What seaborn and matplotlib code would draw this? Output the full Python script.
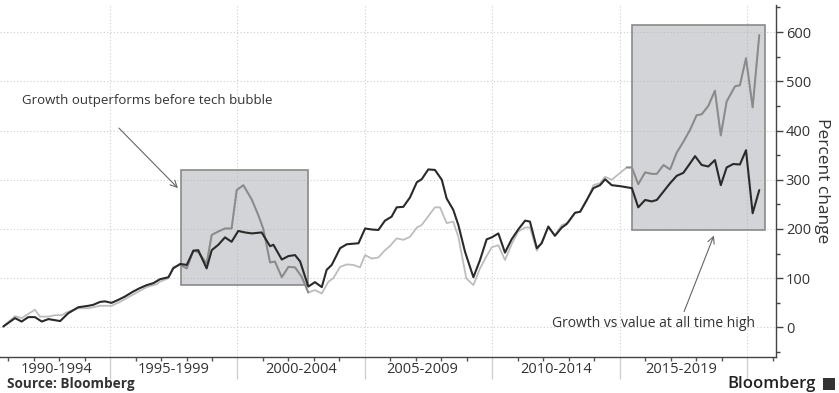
import matplotlib
matplotlib.use("Agg")
import matplotlib.pyplot as plt
import matplotlib.transforms as mtransforms
from matplotlib.patches import Rectangle
from matplotlib.ticker import FixedLocator, MultipleLocator
import seaborn as sns
import pandas as pd

# ---------------- data ----------------
value_years = [1990.81, 1991.27, 1991.53, 1991.79, 1992.05, 1992.32, 1992.58, 1993.04, 1993.36, 1993.75,
               1994.15, 1994.34, 1994.61, 1994.80, 1995.06, 1995.32, 1995.59, 1995.91, 1996.17, 1996.44,
               1996.70, 1996.96, 1997.29, 1997.48, 1997.75, 1998.01, 1998.27, 1998.46, 1998.79, 1998.99,
               1999.25, 1999.51, 1999.77, 2000.03, 2000.30, 2000.56, 2000.95, 2001.28, 2001.41, 2001.74,
               2002.00, 2002.26, 2002.46, 2002.78, 2003.04, 2003.31, 2003.50, 2003.70, 2004.03, 2004.29,
               2004.75, 2005.01, 2005.27, 2005.53, 2005.79, 2006.05, 2006.25, 2006.51, 2006.77, 2007.04,
               2007.23, 2007.49, 2007.75, 2008.02, 2008.21, 2008.47, 2008.67, 2008.93, 2009.26, 2009.52,
               2009.78, 2009.98, 2010.24, 2010.50, 2010.76, 2011.02, 2011.29, 2011.48, 2011.75, 2011.94,
               2012.20, 2012.46, 2012.73, 2012.92, 2013.25, 2013.45, 2013.71, 2013.97, 2014.23, 2014.43,
               2014.69, 2015.02, 2015.48, 2015.73, 2016.00, 2016.26, 2016.46, 2016.72, 2016.98, 2017.24,
               2017.50, 2017.76, 2017.96, 2018.22, 2018.48, 2018.74, 2018.97, 2019.20, 2019.46, 2019.72,
               2019.96, 2020.22, 2020.48]
value_pct = [2, 19, 12, 21, 21, 12, 17, 13, 29, 41,
             44, 46, 52, 53, 50, 56, 63, 73, 80, 86,
             90, 98, 102, 120, 129, 127, 156, 157, 120, 157,
             168, 183, 174, 196, 193, 191, 193, 165, 168, 138,
             145, 147, 134, 83, 92, 82, 117, 127, 161, 169,
             171, 201, 199, 198, 217, 225, 244, 245, 264, 295,
             301, 321, 320, 300, 262, 239, 208, 154, 102, 137,
             179, 183, 191, 152, 179, 199, 217, 215, 161, 171,
             205, 186, 203, 210, 233, 235, 259, 283, 289, 301,
             289, 287, 283, 244, 259, 256, 259, 276, 293, 308,
             314, 333, 348, 330, 327, 340, 289, 325, 332, 331,
             360, 232, 279]

growth_years = [1990.81, 1991.27, 1991.53, 1992.05, 1992.25, 1992.58, 1992.84, 1993.10, 1993.36, 1993.75,
                1994.15, 1994.61, 1995.06, 1995.39, 1995.91, 1996.44, 1996.83, 1996.96, 1997.29, 1997.48,
                1997.75, 1998.01, 1998.27, 1998.46, 1998.79, 1998.99, 1999.25, 1999.51, 1999.77, 1999.97,
                2000.23, 2000.56, 2000.82, 2001.01, 2001.28, 2001.47, 2001.74, 2002.00, 2002.26, 2002.52,
                2002.78, 2003.04, 2003.31, 2003.57, 2003.76, 2004.03, 2004.29, 2004.55, 2004.81, 2005.01,
                2005.27, 2005.53, 2005.79, 2005.98, 2006.25, 2006.51, 2006.77, 2007.04, 2007.23, 2007.49,
                2007.75, 2007.95, 2008.21, 2008.47, 2008.67, 2008.98, 2009.26, 2009.52, 2009.78, 2009.98,
                2010.24, 2010.50, 2010.76, 2011.02, 2011.29, 2011.48, 2011.75, 2011.94, 2012.20, 2012.46,
                2012.73, 2012.99, 2013.25, 2013.45, 2013.71, 2013.97, 2014.23, 2014.43, 2014.69, 2015.02,
                2015.28, 2015.48, 2015.73, 2016.00, 2016.26, 2016.46, 2016.72, 2016.98, 2017.24, 2017.50,
                2017.76, 2018.02, 2018.22, 2018.48, 2018.74, 2018.97, 2019.20, 2019.53, 2019.72, 2019.96,
                2020.22, 2020.48]
growth_pct = [2, 23, 19, 36, 22, 22, 25, 25, 32, 39,
              39, 44, 44, 52, 67, 82, 88, 93, 100, 123,
              127, 120, 156, 153, 130, 188, 195, 201, 201, 279,
              289, 260, 228, 201, 132, 134, 102, 123, 122, 103,
              71, 76, 69, 93, 100, 123, 128, 127, 122, 147,
              140, 142, 157, 165, 181, 178, 184, 203, 208, 226,
              244, 244, 212, 215, 184, 100, 86, 120, 145, 163,
              167, 137, 169, 195, 203, 203, 156, 174, 203, 188,
              208, 213, 233, 235, 257, 289, 293, 306, 300, 314,
              325, 325, 291, 315, 312, 312, 330, 321, 355, 377,
              401, 431, 433, 450, 481, 390, 459, 490, 492, 547,
              447, 594]

# highlighted periods: (start year, end year, low %, high %)
highlight_start = [1997.78, 2015.48]
highlight_end = [2002.77, 2020.70]
highlight_low = [86, 198]
highlight_high = [320, 614]

period_labels = ["1990-1994", "1995-1999", "2000-2004", "2005-2009", "2010-2014", "2015-2019"]
period_centers = [1992.9, 1997.5, 2002.5, 2007.25, 2012.5, 2017.4]
boundary_years = [1995, 2000, 2005, 2010, 2015, 2020]

# ---------------- style ----------------
sns.set_theme(style="white")
plt.rcParams["font.family"] = ["Open Sans", "DejaVu Sans"]

TEXT = "#333333"
fig = plt.figure(figsize=(8.39, 3.93), dpi=100)
ax = fig.add_axes([0.0, 0.0916, 0.925, 0.8957])

value_df = pd.DataFrame({"year": value_years, "pct": value_pct})
growth_df = pd.DataFrame({"year": growth_years, "pct": growth_pct})

sns.lineplot(data=growth_df, x="year", y="pct", color="#bdbdbd", lw=1.3,
             estimator=None, sort=False, ax=ax, zorder=3)
for s, e in zip(highlight_start, highlight_end):
    inside = growth_df[(growth_df["year"] >= s - 0.26) & (growth_df["year"] <= e + 0.26)]
    sns.lineplot(data=inside, x="year", y="pct", color="#8a8a8a", lw=1.4,
                 estimator=None, sort=False, ax=ax, zorder=3.5)
sns.lineplot(data=value_df, x="year", y="pct", color="#2a2a2a", lw=1.5,
             estimator=None, sort=False, ax=ax, zorder=4)

for s, e, lo, hi in zip(highlight_start, highlight_end, highlight_low, highlight_high):
    ax.add_patch(Rectangle((s, lo), e - s, hi - lo, facecolor=(0.66, 0.67, 0.69, 0.5),
                           edgecolor="#8a8a8a", lw=1.2, zorder=2))

ax.set_xlim(1990.68, 2021.14)
ax.set_ylim(-60, 655)

# spines
for side in ["left", "top"]:
    ax.spines[side].set_visible(False)
for side in ["bottom", "right"]:
    ax.spines[side].set_color("#444444")
    ax.spines[side].set_linewidth(1.0)

# y axis on the right
ax.yaxis.tick_right()
ax.yaxis.set_label_position("right")
ax.yaxis.set_major_locator(MultipleLocator(100))
ax.yaxis.set_minor_locator(MultipleLocator(50))
ax.tick_params(axis="y", which="major", right=True, length=5, width=1, color="#444444",
               labelsize=10.5, labelcolor=TEXT, pad=2)
ax.tick_params(axis="y", which="minor", right=True, length=3, width=1, color="#444444")
ax.set_ylabel("Percent change", rotation=270, fontsize=12.5, color=TEXT, labelpad=14)

# x axis
ax.xaxis.set_major_locator(FixedLocator(boundary_years))
ax.xaxis.set_minor_locator(MultipleLocator(1))
ax.tick_params(axis="x", which="major", bottom=True, length=16, width=1, color="#d0d0d0",
               labelbottom=False)
ax.tick_params(axis="x", which="minor", bottom=True, length=3, width=1, color="#555555")
ax.set_xlabel("")

trans = mtransforms.blended_transform_factory(ax.transData, ax.transAxes)
for c, lab in zip(period_centers, period_labels):
    ax.text(c, -0.036, lab, transform=trans, ha="center", va="center",
            fontsize=10.5, color=TEXT)

ax.grid(True, which="major", axis="both", color="#cfcfcf", lw=0.8, ls=(0, (1, 2)))
ax.set_axisbelow(True)

# annotations
ax.annotate("", xy=(1997.74, 279), xytext=(1995.27, 409),
            arrowprops=dict(arrowstyle="->", color="#666666", lw=0.8), zorder=5)
ax.text(1991.54, 462, "Growth outperforms before tech bubble", ha="left", va="center",
        fontsize=9.5, color=TEXT)
ax.annotate("", xy=(2018.74, 192), xytext=(2017.49, 27),
            arrowprops=dict(arrowstyle="->", color="#666666", lw=0.8), zorder=5)
ax.text(2020.31, 9, "Growth vs value at all time high", ha="right", va="center",
        fontsize=10, color=TEXT)

# footer
fig.text(0.008, 0.023, "Source: Bloomberg", fontsize=9.8, fontweight="bold", color=TEXT,
         ha="left", va="center")
fig.text(0.972, 0.022, "Bloomberg", fontsize=12, fontweight="semibold", color="#222222",
         ha="right", va="center")
fig.patches.append(Rectangle((0.981, 0.008), 0.014, 0.03, transform=fig.transFigure,
                             facecolor="#333333", edgecolor="none"))

fig.savefig("out.png", dpi=100)
